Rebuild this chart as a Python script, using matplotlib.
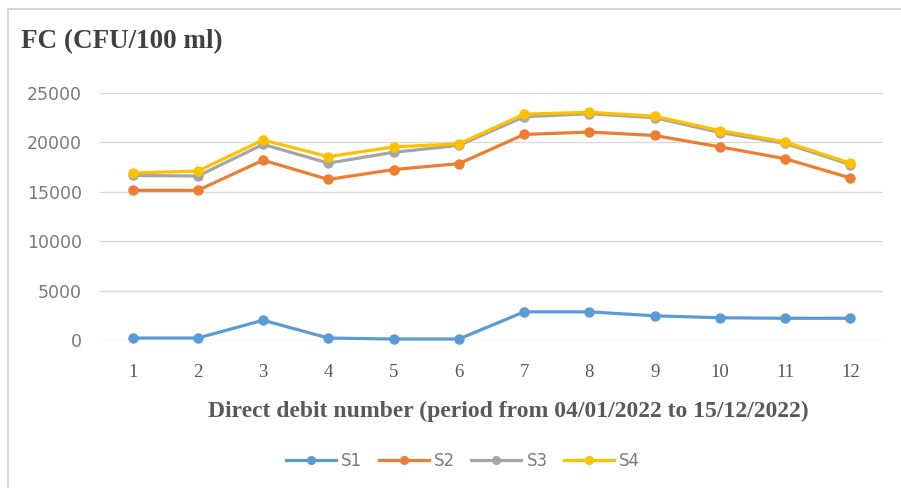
import matplotlib
matplotlib.use("Agg")
import matplotlib.pyplot as plt
from matplotlib.lines import Line2D

# Sampling campaign index (12 samples between 04/01/2022 and 15/12/2022)
samples = [1, 2, 3, 4, 5, 6, 7, 8, 9, 10, 11, 12]

# Faecal coliforms (CFU/100 ml) per station
s1 = [200, 200, 2000, 200, 100, 100, 2850, 2850, 2450, 2250, 2200, 2200]
s2 = [15150, 15150, 18200, 16250, 17250, 17850, 20800, 21050, 20700, 19550, 18350, 16400]
s3 = [16650, 16600, 19800, 17900, 19000, 19700, 22600, 22900, 22500, 21000, 19900, 17750]
s4 = [16900, 17100, 20250, 18550, 19550, 19850, 22850, 23050, 22650, 21200, 20050, 17900]

series_names = ["S1", "S2", "S3", "S4"]
series_colors = ["#5B9BD5", "#ED7D31", "#A5A5A5", "#FFC000"]
y_ticks = [0, 5000, 10000, 15000, 20000, 25000]

W, H = 901, 488
fig = plt.figure(figsize=(W / 100, H / 100), dpi=100)
fig.patch.set_facecolor("white")

# thin frame around the chart area
fig.add_artist(Line2D([8 / W, 8 / W], [0, 1 - 9 / H], transform=fig.transFigure,
                      color="#d0d0d0", lw=1.2))
fig.add_artist(Line2D([8 / W, 1], [1 - 9 / H, 1 - 9 / H], transform=fig.transFigure,
                      color="#d0d0d0", lw=1.2))

ax = fig.add_axes([100 / W, 1 - 340 / H, (883 - 100) / W, (340 - 93) / H])
ax.set_xlim(0.5, 12.5)
ax.set_ylim(0, 25000)

for vals, name, col in zip([s1, s2, s3, s4], series_names, series_colors):
    ax.plot(samples, vals, color=col, lw=2.3, marker="o", ms=6.5,
            markeredgecolor=col, label=name, clip_on=False, zorder=3,
            solid_joinstyle="round")

ax.set_yticks(y_ticks)
ax.set_yticklabels([str(v) for v in y_ticks], fontfamily="DejaVu Sans",
                   fontsize=12.5, color="#7a7a7a")
ax.set_xticks(samples)
ax.set_xticklabels([str(v) for v in samples], fontfamily="Liberation Serif",
                   fontsize=13.5, color="#595959")
ax.tick_params(axis="both", length=0)
ax.tick_params(axis="y", pad=13)
ax.tick_params(axis="x", pad=17)

ax.grid(axis="y", color="#d9d9d9", lw=1)
ax.set_axisbelow(True)
for side in ["top", "right", "left", "bottom"]:
    ax.spines[side].set_visible(False)

fig.text(21 / W, 1 - 42 / H, "FC (CFU/100 ml)", fontfamily="Liberation Serif",
         fontweight="bold", fontsize=19.5, color="#404040", va="center", ha="left")
fig.text(508 / W, 1 - 411 / H,
         "Direct debit number (period from 04/01/2022 to 15/12/2022)",
         fontfamily="Liberation Serif", fontweight="bold", fontsize=17,
         color="#595959", va="center", ha="center")

leg = fig.legend(loc="center", bbox_to_anchor=(463 / W, 1 - 461 / H), ncol=4,
                 frameon=False, handlelength=3.0, handletextpad=0.3,
                 columnspacing=1.0, markerscale=0.85,
                 prop={"family": "DejaVu Sans", "size": 12})
for t in leg.get_texts():
    t.set_color("#7a7a7a")

fig.savefig("out.png", dpi=100, facecolor="white")
